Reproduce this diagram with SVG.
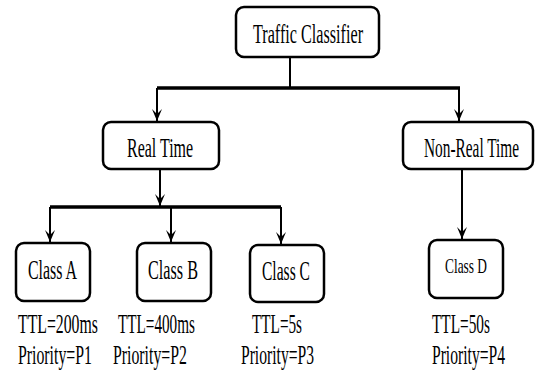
<svg xmlns="http://www.w3.org/2000/svg" width="540" height="373" viewBox="0 0 540 373">
<style>
.box{fill:#fff;stroke:#000;stroke-width:2.5}
text{font-family:"Liberation Serif","Times New Roman",serif;font-size:27px;fill:#000}
.s{font-size:22px}
.thin{stroke:#000;stroke-width:2;fill:none}
.thick{stroke:#000;stroke-width:3.5;fill:none}
</style>
<defs>
<marker id="ah" markerUnits="userSpaceOnUse" viewBox="-13 -6 14 12" refX="0" refY="0" markerWidth="14" markerHeight="12" orient="auto">
<path d="M0,0 L-12,-5 L-7,0 L-12,5 Z" fill="#000"/>
</marker>
</defs>
<rect width="540" height="373" fill="#fff"/>
<g id="connectors">
<line class="thin" x1="290" y1="57" x2="290" y2="88"/>
<line class="thick" x1="157" y1="88" x2="460" y2="88"/>
<path class="thin" d="M157,88 V121" marker-end="url(#ah)"/>
<path class="thin" d="M459,88 V121" marker-end="url(#ah)"/>
<path class="thin" d="M160,169 V206" marker-end="url(#ah)"/>
<path class="thick" d="M50,207 H281"/>
<path class="thin" d="M50,207 V242" marker-end="url(#ah)"/>
<path class="thin" d="M171,207 V242" marker-end="url(#ah)"/>
<path class="thin" d="M281,207 V244" marker-end="url(#ah)"/>
<path class="thin" d="M462,169 V239" marker-end="url(#ah)"/>
</g>
<g id="traffic-classifier">
<rect class="box" x="236" y="7" width="143" height="50" rx="8"/>
<text transform="translate(253,43) scale(0.599,1)">Traffic Classifier</text>
</g>
<g id="real-time">
<rect class="box" x="103" y="122" width="116" height="47" rx="8"/>
<text transform="translate(127,157) scale(0.592,1)">Real Time</text>
</g>
<g id="non-real-time">
<rect class="box" x="403" y="122" width="130" height="47" rx="8"/>
<text transform="translate(424,157) scale(0.569,1)">Non-Real Time</text>
</g>
<g id="class-a">
<rect class="box" x="16" y="243" width="74" height="58" rx="8"/>
<text transform="translate(28,279) scale(0.59,1)">Class A</text>
<text transform="translate(18,333) scale(0.585,1)">TTL=200ms</text>
<text transform="translate(18,364) scale(0.586,1)">Priority=P1</text>
</g>
<g id="class-b">
<rect class="box" x="137" y="243" width="74" height="58" rx="8"/>
<text transform="translate(148,279) scale(0.6,1)">Class B</text>
<text transform="translate(118,333) scale(0.563,1)">TTL=400ms</text>
<text transform="translate(113,364) scale(0.586,1)">Priority=P2</text>
</g>
<g id="class-c">
<rect class="box" x="250" y="245" width="74" height="57" rx="8"/>
<text transform="translate(262,280) scale(0.576,1)">Class C</text>
<text transform="translate(252,333) scale(0.564,1)">TTL=5s</text>
<text transform="translate(241,364) scale(0.578,1)">Priority=P3</text>
</g>
<g id="class-d">
<rect class="box" x="429" y="240" width="74" height="58" rx="8"/>
<text class="s" transform="translate(445,273) scale(0.608,1)">Class D</text>
<text transform="translate(432,333) scale(0.567,1)">TTL=50s</text>
<text transform="translate(432,364) scale(0.578,1)">Priority=P4</text>
</g>
</svg>
